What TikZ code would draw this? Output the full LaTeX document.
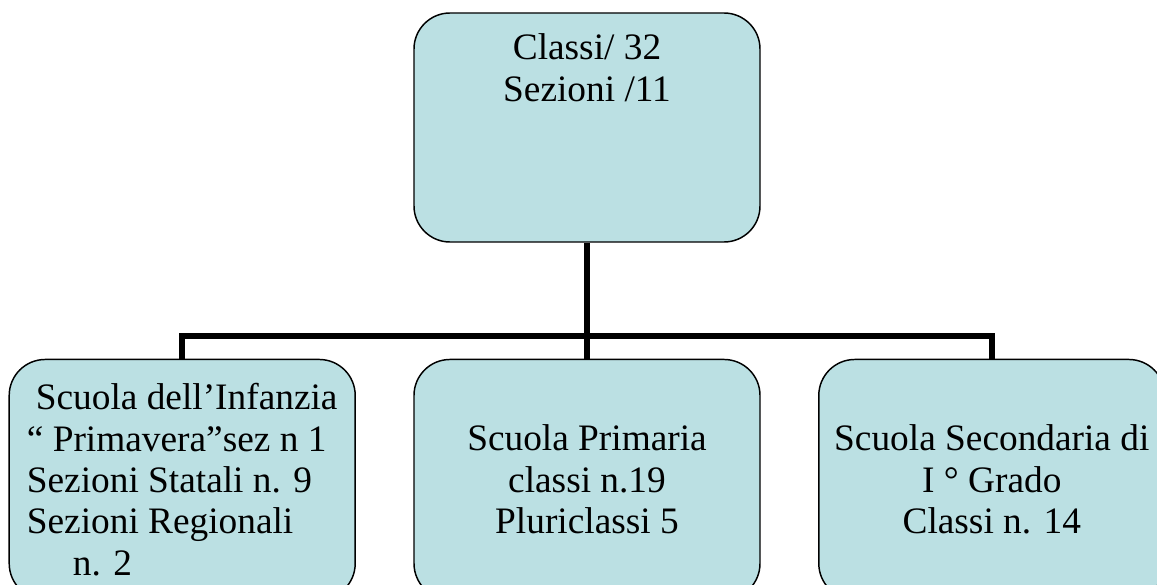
\documentclass[tikz,border=0pt]{standalone}
\usepackage{fontspec}
\setmainfont{Liberation Serif}
\usepackage{xcolor}
\usepackage{tikz}
\usetikzlibrary{positioning}
\definecolor{boxfill}{HTML}{BBE0E3}
\definecolor{ink}{HTML}{000000}

\begin{document}
\begin{tikzpicture}[
    x=0.75pt, y=-0.75pt,
    node distance=87pt and 43pt,
    box/.style={rounded corners=27pt, draw=ink, line width=1.1pt, fill=boxfill,
                minimum width=259.5pt, minimum height=180pt, align=center,
                font=\fontsize{28}{31}\selectfont},
    txt/.style={inner sep=0pt, align=center, font=\fontsize{28}{31}\selectfont},
    line/.style={draw=ink, line width=4.5pt}
  ]

  \useasboundingbox (0,0) rectangle (1157,585);
  \clip (0,0) rectangle (1157,585);

  %%%%%%%%%%%%% Top: totals %%%%%%%%%%%%%
  \node[box, minimum height=171.75pt] (classi) at (587,127.5) {};
  \node[txt, anchor=north] (classitxt) at ([yshift=-16pt]classi.north) {Classi/ 32\\Sezioni /11};

  %%%%%%%%%%%%% Bottom: schools %%%%%%%%%%%%%
  \node[box, below=of classi] (primaria) {Scuola Primaria\\classi n.19\\Pluriclassi 5};
  \node[box, left=of primaria, align=left] (infanzia) {\hspace*{6.75pt}Scuola dell’Infanzia\\“ Primavera”sez n 1\\Sezioni Statali n. 9\\Sezioni Regionali\\\hspace*{34.5pt}n. 2};
  \node[box, right=of primaria] (secondaria) {Scuola Secondaria di\\I ° Grado\\Classi n. 14};

  %%%%%%%%%%%%% Connections %%%%%%%%%%%%%
  \draw[line] (classi.south) -- (primaria.north);
  \draw[line] (infanzia.north) -- ++(0,-23) -| (secondaria.north);

\end{tikzpicture}
\end{document}
